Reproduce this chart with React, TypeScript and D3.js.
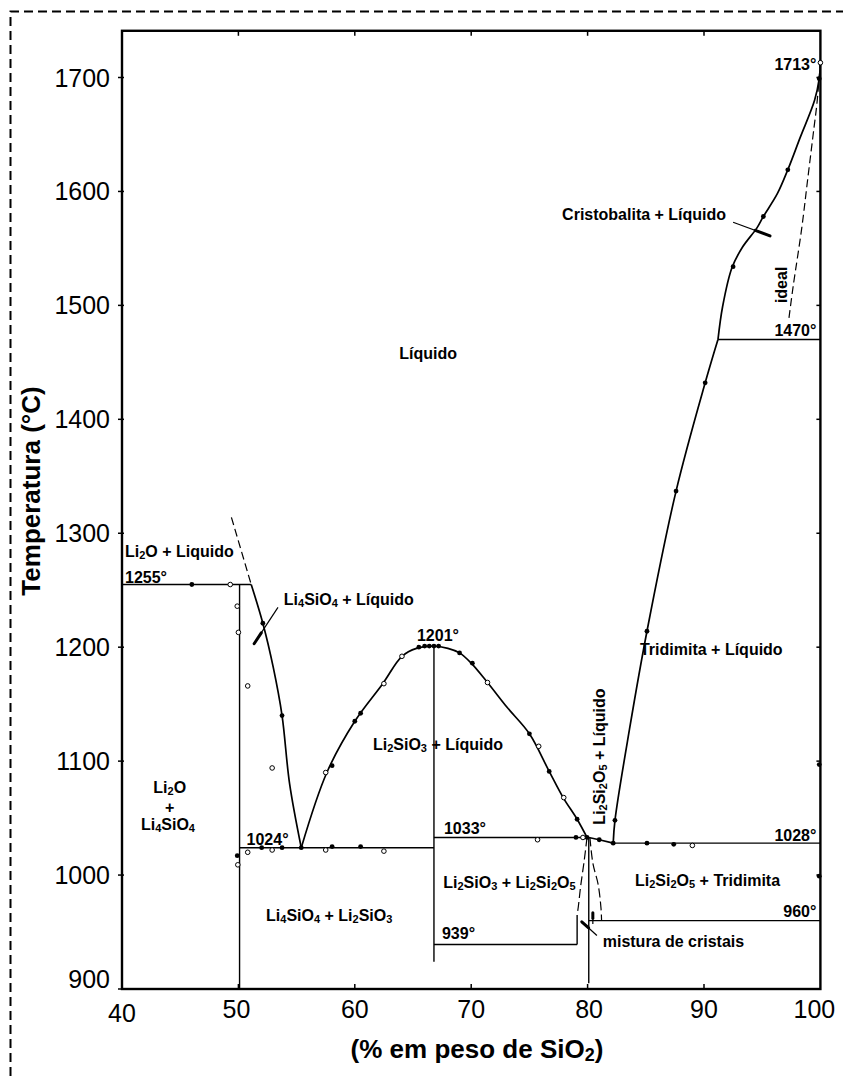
import React from "react";
import * as d3 from "d3";

// Li2O–SiO2 phase diagram (composition in wt% SiO2, temperature in °C)

const xTicks = [40, 50, 60, 70, 80, 90, 100];
const yTicks = [900, 1000, 1100, 1200, 1300, 1400, 1500, 1600, 1700];
const innerXTicks = [50, 60, 70, 80, 90];

// compositions of the compounds
const LI4SIO4 = 50.1;
const LI2SIO3 = 66.8;
const LI2SI2O5 = 80.1;

// invariant temperatures
const T_LI2O_PERITECTIC = 1255;
const T_EUT1 = 1024;
const T_LI2SIO3_MELT = 1201;
const T_EUT2 = 1033;
const T_EUT3 = 1028;
const T_LOW_LI2SIO3 = 939;
const T_LOW_TRID = 960;
const T_TRID_CRIST = 1470;
const T_SIO2_MELT = 1713;

// liquidus curves [wt% SiO2, °C]
const li2oLiquidusDashed: [number, number][] = [[49.4, 1314], [51.1, 1255]];
const li4sio4Liquidus: [number, number][] = [
  [51.1, 1255], [52.1, 1221], [53.0, 1182], [53.75, 1140], [54.4, 1080], [55.4, 1024],
];
const li2sio3Liquidus: [number, number][] = [
  [55.4, 1024], [57.6, 1090], [60.0, 1135], [62.4, 1168], [64.05, 1192],
  [65.3, 1199], [66.8, 1201], [68.0, 1199], [69.0, 1195], [70.0, 1186], [71.4, 1169],
  [73.1, 1147], [75.0, 1124], [76.7, 1091], [77.9, 1068], [79.1, 1049], [79.95, 1033],
];
const li2si2o5Liquidus: [number, number][] = [[80.1, 1033], [81.0, 1031], [82.2, 1028]];
const tridymiteLiquidus: [number, number][] = [
  [82.2, 1028], [82.35, 1048], [83.6, 1128], [85.1, 1214], [87.6, 1337], [90.1, 1432], [91.2, 1470],
];
const cristobaliteLiquidus: [number, number][] = [
  [91.2, 1470], [91.6, 1499], [92.4, 1533], [93.3, 1551], [94.55, 1568], [95.1, 1578],
  [96.3, 1598], [97.2, 1619], [98.25, 1647], [99.5, 1680], [99.9, 1699], [100, 1713],
];
const idealLiquidus: [number, number][] = [
  [97.3, 1489], [97.65, 1516], [98.4, 1568], [98.9, 1610], [99.45, 1656], [99.7, 1677], [100, 1713],
];
// limits of solid solution around Li2Si2O5
const ssLeftDashed: [number, number][] = [[79.95, 1033], [79.7, 1012], [79.4, 990], [79.2, 972], [79.1, 965]];
const ssLeftSolid: [number, number][] = [[79.1, 965], [79.1, 939]];
const ssRightDashed: [number, number][] = [[80.2, 1033], [80.46, 1010], [80.9, 992], [81.15, 971], [81.2, 960]];

// experimental points: filled
const filledPts: [number, number][] = [
  [46.0, 1255], [49.9, 1017], [52.1, 1221], [53.75, 1140], [55.4, 1024], [52.0, 1024], [53.75, 1024],
  [58.05, 1025], [60.5, 1025], [58.05, 1096], [60.0, 1135], [60.5, 1142],
  [65.5, 1200], [66.0, 1201], [66.4, 1201], [66.8, 1201], [67.2, 1201],
  [69.0, 1195], [70.1, 1186], [75.0, 1124], [76.7, 1091], [79.1, 1049],
  [79.0, 1033], [79.95, 1033], [81.0, 1031], [82.2, 1028], [82.35, 1048], [85.1, 1028], [87.4, 1027],
  [85.1, 1214], [87.6, 1337], [90.1, 1432],
  [92.5, 1534], [95.1, 1578], [97.2, 1619], [99.9, 1699], [99.9, 999], [99.9, 1097],
];
// experimental points: open
const openPts: [number, number][] = [
  [49.3, 1255], [49.9, 1236], [50.0, 1213], [50.8, 1166], [52.9, 1094], [49.95, 1009], [50.8, 1020],
  [52.9, 1022], [57.5, 1022], [62.5, 1021], [57.5, 1090], [62.5, 1168], [64.05, 1192],
  [71.4, 1169], [75.8, 1113], [77.95, 1068], [75.7, 1031], [79.6, 1033], [89.0, 1026], [100, 1713],
];

const W = 843;
const H = 1076;
const FONT = "'Liberation Sans', Arial, Helvetica, sans-serif";

const x = d3.scaleLinear().domain([40, 100]).range([122, 820.4]);
const y = d3.scaleLinear().domain([900, 1700]).range([989, 77.5]);
const T_TOP = 1741;

const lineLinear = d3.line<[number, number]>().x((d) => x(d[0])).y((d) => y(d[1]));
const lineSmooth = d3
  .line<[number, number]>()
  .x((d) => x(d[0]))
  .y((d) => y(d[1]))
  .curve(d3.curveCatmullRom.alpha(0.5));

function Rich({ text, sub = 11, shift = 2.2 }: { text: string; sub?: number; shift?: number }) {
  const parts = text.split(/(_\d)/).filter((p) => p.length > 0);
  let prevSub = false;
  return (
    <>
      {parts.map((p, i) => {
        if (p.startsWith("_")) {
          const el = (
            <tspan key={i} fontSize={sub} dy={prevSub ? 0 : shift}>
              {p.slice(1)}
            </tspan>
          );
          prevSub = true;
          return el;
        }
        const el = (
          <tspan key={i} dy={prevSub ? -shift : 0}>
            {p}
          </tspan>
        );
        prevSub = false;
        return el;
      })}
    </>
  );
}

// pointer line: thin shaft with a heavier end segment at the "to" side
function Pointer({ from, to, heavy = 0.35 }: { from: [number, number]; to: [number, number]; heavy?: number }) {
  const x1 = x(from[0]);
  const y1 = y(from[1]);
  const x2 = x(to[0]);
  const y2 = y(to[1]);
  const hx = x2 + (x1 - x2) * heavy;
  const hy = y2 + (y1 - y2) * heavy;
  return (
    <g stroke="#000">
      <line x1={x1} y1={y1} x2={x2} y2={y2} strokeWidth={1.2} />
      <line x1={hx} y1={hy} x2={x2} y2={y2} strokeWidth={3} strokeLinecap="round" />
    </g>
  );
}

const labelStyle = { fontFamily: FONT, fontWeight: 700, fontSize: 16 } as const;

export default function App() {
  const x0 = x(40);
  const x1 = x(100);
  const yTop = y(T_TOP);
  const yBot = y(900);

  return (
    <svg
      width={W}
      height={H}
      viewBox={`0 0 ${W} ${H}`}
      style={{ position: "absolute", left: 0, top: 0, background: "#fff" }}
    >
      <rect x={0} y={0} width={W} height={H} fill="#fff" />
      {/* dashed outer border */}
      <path d={`M10.5 ${H} V11.5 H${W}`} fill="none" stroke="#000" strokeWidth={2} strokeDasharray="9 5" />

      {/* axes frame */}
      <rect x={x0} y={yTop} width={x1 - x0} height={yBot - yTop} fill="none" stroke="#000" strokeWidth={2.4} />

      {/* ticks */}
      <g stroke="#000" strokeWidth={1.5}>
        {yTicks.map((t) => (
          <line key={"yl" + t} x1={x0 - 4} x2={x0 + 2} y1={y(t)} y2={y(t)} />
        ))}
        {yTicks.map((t) => (
          <line key={"yr" + t} x1={x1 - 4} x2={x1} y1={y(t)} y2={y(t)} />
        ))}
        {innerXTicks.map((v) => (
          <line key={"xt" + v} x1={x(v)} x2={x(v)} y1={yTop} y2={yTop + 5} />
        ))}
        {innerXTicks.map((v) => (
          <line key={"xb" + v} x1={x(v)} x2={x(v)} y1={yBot} y2={yBot - 5} />
        ))}
      </g>

      {/* tick labels */}
      <g style={{ fontFamily: FONT, fontSize: 25 }} fill="#000">
        {yTicks.map((t) => (
          <text key={"ylab" + t} x={x0 - 12} y={t === 900 ? y(t) - 1 : y(t) + 9} textAnchor="end">
            {t}
          </text>
        ))}
        {xTicks.map((v) => {
          const dx = v === 100 ? -6 : v === 50 ? -2 : v === 80 ? 1.5 : 0;
          const by = v === 40 ? 1022 : 1018;
          return (
            <text key={"xlab" + v} x={x(v) + dx} y={by} textAnchor="middle">
              {v}
            </text>
          );
        })}
      </g>

      {/* axis titles */}
      <text x={477} y={1058} textAnchor="middle" style={{ fontFamily: FONT, fontWeight: 700, fontSize: 26 }}>
        <Rich text="(% em peso de SiO_2)" sub={18} shift={3} />
      </text>
      <text
        transform={`translate(40,491) rotate(-90)`}
        textAnchor="middle"
        style={{ fontFamily: FONT, fontWeight: 700, fontSize: 26 }}
      >
        Temperatura (°C)
      </text>

      {/* horizontal invariant lines */}
      <g stroke="#000" strokeWidth={1.4} fill="none">
        <path d={lineLinear([[40, T_LI2O_PERITECTIC], [51.1, T_LI2O_PERITECTIC]])!} />
        <path d={lineLinear([[LI4SIO4, T_EUT1], [LI2SIO3, T_EUT1]])!} />
        <path d={lineLinear([[LI2SIO3, T_EUT2], [LI2SI2O5, T_EUT2]])!} />
        <path d={lineLinear([[LI2SIO3, T_LOW_LI2SIO3], [79.1, T_LOW_LI2SIO3]])!} />
        <path d={lineLinear([[82.2, T_EUT3], [100, T_EUT3]])!} />
        <path d={lineLinear([[LI2SI2O5, T_LOW_TRID], [100, T_LOW_TRID]])!} />
        <path d={lineLinear([[91.2, T_TRID_CRIST], [100, T_TRID_CRIST]])!} />
        {/* compound verticals */}
        <path d={lineLinear([[LI4SIO4, T_LI2O_PERITECTIC], [LI4SIO4, 900]])!} />
        <path d={lineLinear([[LI2SIO3, T_LI2SIO3_MELT], [LI2SIO3, 924]])!} />
        <path d={lineLinear([[LI2SI2O5, T_EUT2], [LI2SI2O5, 905]])!} />
        <path d={lineLinear(ssLeftSolid)!} />
      </g>

      {/* liquidus curves */}
      <g stroke="#000" strokeWidth={1.7} fill="none" strokeLinejoin="round">
        <path d={lineSmooth(li4sio4Liquidus)!} />
        <path d={lineSmooth(li2sio3Liquidus)!} />
        <path d={lineLinear(li2si2o5Liquidus)!} />
        <path d={lineSmooth(tridymiteLiquidus)!} />
        <path d={lineSmooth(cristobaliteLiquidus)!} />
      </g>
      <g stroke="#000" strokeWidth={1.2} fill="none" strokeDasharray="8 4">
        <path d={lineLinear(li2oLiquidusDashed)!} />
        <path d={lineSmooth(idealLiquidus)!} />
        <path d={lineSmooth(ssLeftDashed)!} strokeDasharray="9 4" />
        <path d={lineSmooth(ssRightDashed)!} strokeDasharray="9 4" />
      </g>

      {/* experimental points */}
      <g>
        {filledPts.map((p, i) => (
          <circle key={"f" + i} cx={x(p[0])} cy={y(p[1])} r={2.4} fill="#000" />
        ))}
        {openPts.map((p, i) => (
          <circle key={"o" + i} cx={x(p[0])} cy={y(p[1])} r={2.3} fill="#fff" stroke="#000" strokeWidth={1} />
        ))}
      </g>

      {/* pointers */}
      <Pointer from={[53.4, 1235]} to={[51.35, 1203]} heavy={0.3} />
      <Pointer from={[92.5, 1573]} to={[95.67, 1561]} heavy={0.4} />
      <Pointer from={[80.8, 947]} to={[79.5, 959]} heavy={0.45} />
      <Pointer from={[80.45, 957]} to={[80.45, 967]} heavy={0.5} />

      {/* temperature labels */}
      <g style={labelStyle} fill="#000">
        <text x={x(100) - 4} y={y(T_SIO2_MELT) + 7} textAnchor="end">{T_SIO2_MELT}°</text>
        <text x={x(100) - 4} y={y(T_TRID_CRIST) - 3.5} textAnchor="end">{T_TRID_CRIST}°</text>
        <text x={x(100) - 4} y={y(T_EUT3) - 2} textAnchor="end">{T_EUT3}°</text>
        <text x={x(100) - 4} y={y(T_LOW_TRID) - 3.5} textAnchor="end">{T_LOW_TRID}°</text>
        <text x={x(LI2SIO3) + 8} y={y(T_LOW_LI2SIO3) - 5.5}>{T_LOW_LI2SIO3}°</text>
        <text x={x(LI2SIO3) + 10} y={y(T_EUT2) - 3.5}>{T_EUT2}°</text>
        <text x={x(LI2SIO3) - 17} y={y(T_LI2SIO3_MELT) - 5}>{T_LI2SIO3_MELT}°</text>
        <text x={x(LI4SIO4) + 7} y={y(T_EUT1) - 3}>{T_EUT1}°</text>
        <text x={x(40) + 3} y={y(T_LI2O_PERITECTIC) - 1.5}>{T_LI2O_PERITECTIC}°</text>
      </g>

      {/* phase-field labels */}
      <g style={labelStyle} fill="#000">
        <text x={x(66.3)} y={y(1453)} textAnchor="middle">Líquido</text>
        <text x={x(40.26)} y={y(1279)}>
          <Rich text="Li_2O + Liquido" />
        </text>
        <text x={x(53.9)} y={y(1237)}>
          <Rich text="Li_4SiO_4 + Líquido" />
        </text>
        <text x={x(84.5)} y={y(1193)}>Tridimita + Líquido</text>
        <text x={x(91.9)} y={y(1575)} textAnchor="end">Cristobalita + Líquido</text>
        <text transform={`translate(${x(97.1)},${y(1518)}) rotate(-90)`} textAnchor="middle">ideal</text>
        <text x={x(61.56)} y={y(1109.8)}>
          <Rich text="Li_2SiO_3 + Líquido" />
        </text>
        <text transform={`translate(${x(81.5)},${y(1104)}) rotate(-90)`} textAnchor="middle">
          <Rich text="Li_2Si_2O_5 + Líquido" />
        </text>
        <text x={x(44.1)} y={y(1072)} textAnchor="middle">
          <Rich text="Li_2O" />
        </text>
        <text x={x(44.1)} y={y(1054.5)} textAnchor="middle">+</text>
        <text x={x(43.95)} y={y(1039.5)} textAnchor="middle">
          <Rich text="Li_4SiO_4" />
        </text>
        <text x={x(67.6)} y={y(988.6)}>
          <Rich text="Li_2SiO_3 + Li_2Si_2O_5" />
        </text>
        <text x={x(84.07)} y={y(990.4)}>
          <Rich text="Li_2Si_2O_5 + Tridimita" />
        </text>
        <text x={x(57.8)} y={y(959.7)} textAnchor="middle">
          <Rich text="Li_4SiO_4 + Li_2SiO_3" />
        </text>
        <text x={x(81.3)} y={y(936.9)}>mistura de cristais</text>
      </g>
    </svg>
  );
}
